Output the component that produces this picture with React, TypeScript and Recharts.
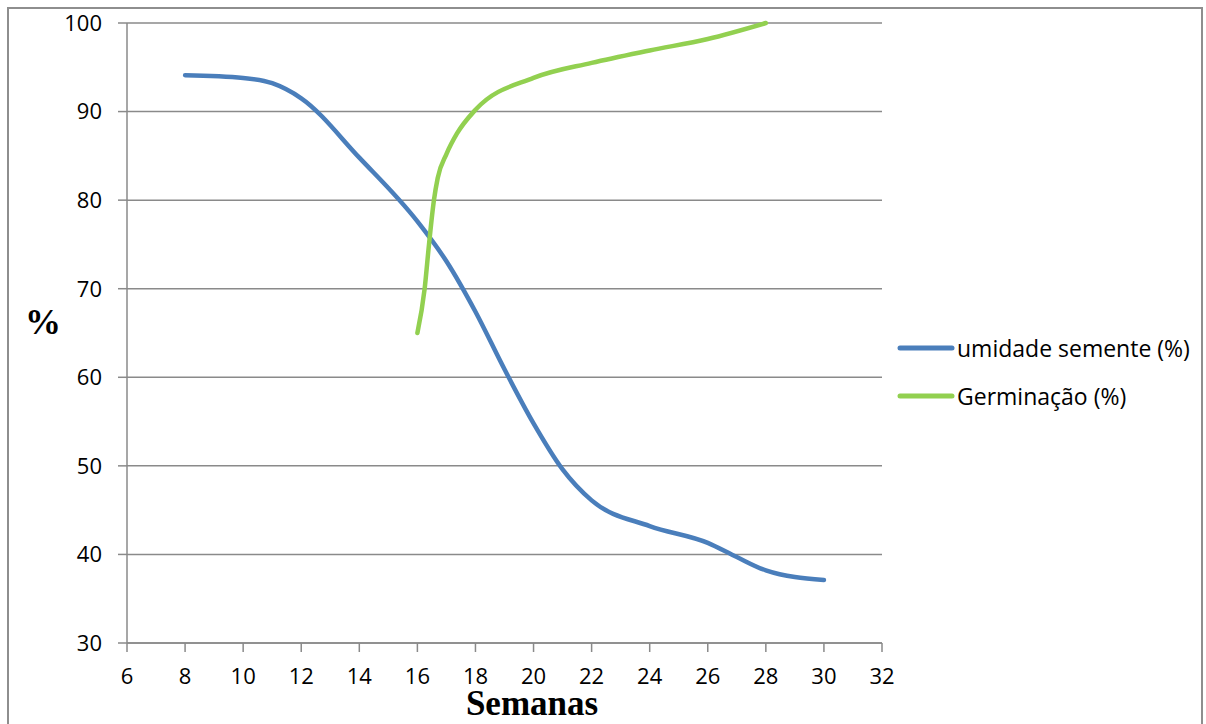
import React from 'react';
import { LineChart, Line, XAxis, YAxis, CartesianGrid } from 'recharts';

const xTicks = [6, 8, 10, 12, 14, 16, 18, 20, 22, 24, 26, 28, 30, 32];
const yTicks = [30, 40, 50, 60, 70, 80, 90, 100];

const umidadeWeeks = [8, 10, 11, 12, 14, 16, 17, 18, 19, 20, 21, 22, 24, 26, 27, 28, 30];
const umidadeValues = [94.1, 93.8, 93.2, 91.5, 84.8, 77.6, 73.1, 67.4, 60.9, 54.8, 49.6, 46.1, 43.2, 41.3, 39.7, 38.2, 37.1];

const germinacaoWeeks = [16, 16.25, 16.4, 16.57, 16.7, 17, 17.36, 18, 20, 22, 24, 26, 28];
const germinacaoValues = [65, 70, 75, 80, 82.5, 85.2, 87.5, 90.2, 93.8, 95.5, 96.9, 98.2, 100];

const seriesNames = ['umidade semente (%)', 'Germinação (%)'];
const seriesColors = ['#4A7EBB', '#92D050'];

const umidadeData = umidadeWeeks.map((w, i) => ({ semana: w, valor: umidadeValues[i] }));
const germinacaoData = germinacaoWeeks.map((w, i) => ({ semana: w, valor: germinacaoValues[i] }));

const tickFont = { fill: '#000', fontSize: 22, fontFamily: 'Open Sans' };
const gray = '#8a8a8a';

export default function App() {
  return (
    <div style={{ position: 'absolute', left: 0, top: 0, width: 1206, height: 724, overflow: 'hidden', background: '#fff' }}>
      <div
        style={{
          position: 'absolute',
          left: 7,
          top: 7,
          width: 1196,
          height: 760,
          borderLeft: '2px solid #8e8e8e',
          borderTop: '2px solid #8e8e8e',
          borderRight: '2px solid #8e8e8e',
          boxSizing: 'border-box',
        }}
      />
      <div style={{ position: 'absolute', left: 0, top: 0 }}>
        <LineChart width={1206} height={724} margin={{ top: 23, right: 324, bottom: 51, left: 0 }}>
          <CartesianGrid vertical={false} stroke={gray} strokeWidth={1.5} />
          <XAxis
            type="number"
            dataKey="semana"
            domain={[6, 32]}
            ticks={xTicks}
            interval={0}
            allowDuplicatedCategory={false}
            height={30}
            tickSize={9}
            tickMargin={16}
            stroke={gray}
            strokeWidth={1.5}
            tick={tickFont}
          />
          <YAxis
            type="number"
            domain={[30, 100]}
            ticks={yTicks}
            interval={0}
            width={127}
            tickSize={9}
            tickMargin={16}
            stroke={gray}
            strokeWidth={1.5}
            tick={tickFont}
          />
          <Line
            data={umidadeData}
            dataKey="valor"
            name={seriesNames[0]}
            type="monotone"
            stroke={seriesColors[0]}
            strokeWidth={4.5}
            strokeLinecap="round"
            dot={false}
            activeDot={false}
            isAnimationActive={false}
          />
          <Line
            data={germinacaoData}
            dataKey="valor"
            name={seriesNames[1]}
            type="monotone"
            stroke={seriesColors[1]}
            strokeWidth={4.5}
            strokeLinecap="round"
            dot={false}
            activeDot={false}
            isAnimationActive={false}
          />
        </LineChart>
      </div>
      <svg width={1206} height={724} style={{ position: 'absolute', left: 0, top: 0, pointerEvents: 'none' }}>
        <text x={43} y={334} textAnchor="middle" fontFamily="'Liberation Serif', 'Times New Roman', serif" fontWeight="bold" fontSize={36} fill="#000">%</text>
        <text x={532} y={715} textAnchor="middle" fontFamily="'Liberation Serif', 'Times New Roman', serif" fontWeight="bold" fontSize={35} fill="#000">Semanas</text>
        {seriesNames.map((n, i) => (
          <g key={n}>
            <line x1={900} x2={952} y1={348 + i * 48} y2={348 + i * 48} stroke={seriesColors[i]} strokeWidth={5} strokeLinecap="round" />
            <text x={957} y={348 + i * 48} dominantBaseline="central" fontFamily="'Open Sans'" fontSize={23} fill="#000">{n}</text>
          </g>
        ))}
      </svg>
    </div>
  );
}
